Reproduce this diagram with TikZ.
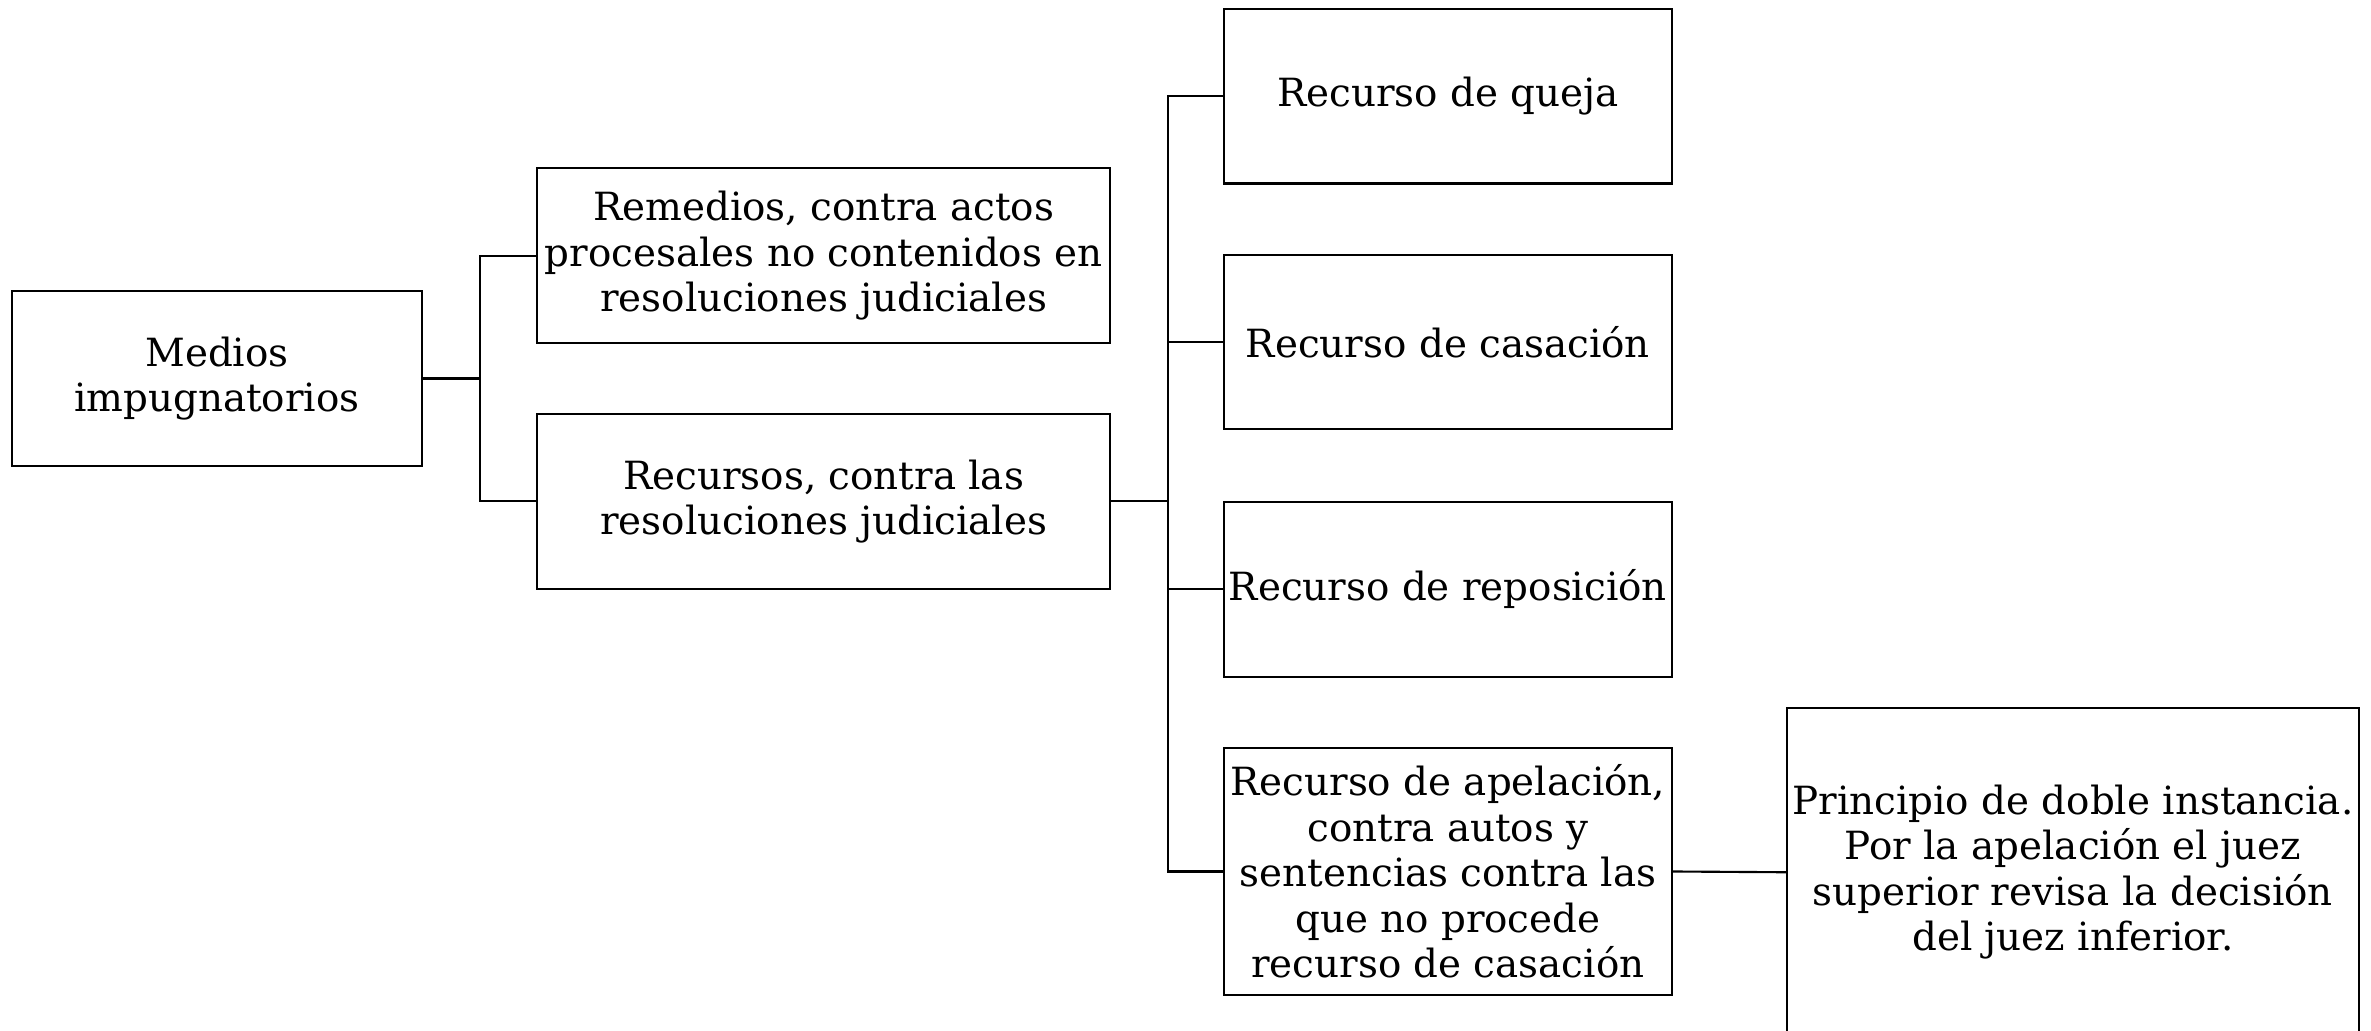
\documentclass[tikz,border=0pt]{standalone}
\usepackage{fontspec}
\setmainfont{DejaVu Serif}
\usepackage{tikz}

\begin{document}
\begin{tikzpicture}[x=1pt,y=1pt,line width=0.7pt,
    caja/.style={draw, align=center, inner sep=0.5pt, font=\fontsize{12.8}{15}\selectfont},
    corta/.style={caja, minimum width=147.5pt, minimum height=57.5pt}]

\useasboundingbox (0,0) rectangle (781.5,-339.5);

% primer nivel
\node [caja, minimum width=135pt, minimum height=57.5pt] (medios) at (71.5,-124.75) {Medios\\impugnatorios};

% segundo nivel
\node [caja, minimum width=189pt, minimum height=57.5pt] (remedios) at (271.5,-84.25)
    {Remedios, contra actos\\procesales no contenidos en\\resoluciones judiciales};
\node [caja, minimum width=189pt, minimum height=57.5pt] (recursos) at (271.5,-165.25)
    {Recursos, contra las\\resoluciones judiciales};

% tercer nivel
\node [corta] (queja) at (477.25,-31.75) {Recurso de queja};
\node [corta] (casacion) at (477.25,-112.75) {Recurso de casación};
\node [corta] (reposicion) at (477.25,-194.25) {Recurso de reposición};
\node [caja, minimum width=147.5pt, minimum height=81.5pt] (apelacion) at (477.25,-287.25)
    {Recurso de apelación,\\contra autos y\\sentencias contra las\\que no procede\\recurso de casación};

\node [caja, minimum width=188.5pt, minimum height=108pt] (principio) at (683.25,-287.5)
    {Principio de doble instancia.\\Por la apelación el juez\\superior revisa la decisión\\del juez inferior.};

% conectores
\draw (medios.east) -- ++(19,0) coordinate (j1);
\foreach \n in {remedios,recursos}
    \draw (j1) |- (\n.west);

\draw (recursos.east) -- ++(18.5,0) coordinate (j2);
\foreach \n in {queja,casacion,reposicion,apelacion}
    \draw (j2) |- (\n.west);

\draw (apelacion.east) -- (principio.west);

\end{tikzpicture}
\end{document}
